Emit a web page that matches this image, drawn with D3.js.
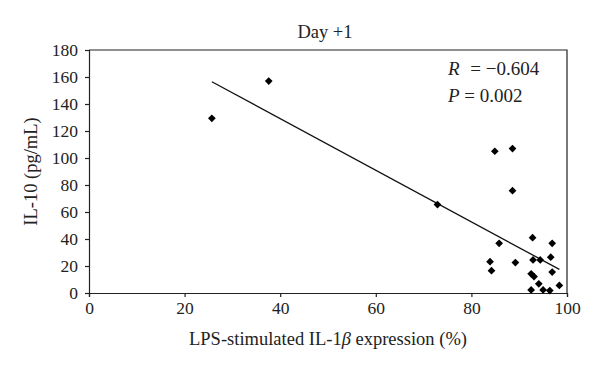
<!DOCTYPE html>
<html>
<head>
<meta charset="utf-8">
<script src="https://cdn.jsdelivr.net/npm/d3@7"></script>
<style>
  body { margin: 0; background: #fff; }
  svg { display: block; }
</style>
</head>
<body>
<div id="chart"></div>
<script>
// Data
const xValues = [25.7, 37.6, 72.9, 84.9, 88.6, 88.6, 85.8, 92.8, 96.9, 83.9, 89.2, 92.9, 94.4, 96.6,
  84.2, 96.9, 92.5, 93.1, 94.1, 98.4, 92.5, 95.0, 96.4];
const yValues = [129.4, 157, 65.5, 105, 107, 75.8, 36.8, 41, 36.8, 23.2, 22.5, 24.5, 24.5, 26.5,
  16.5, 15.5, 14.2, 12.2, 6.8, 5.6, 2.3, 2.3, 1.8];
const trendX = [25.7, 98.4];
const trendY = [156.5, 17.5];
const xTicks = [0, 20, 40, 60, 80, 100];
const yTicks = [0, 20, 40, 60, 80, 100, 120, 140, 160, 180];

const width = 600;
const height = 372;
const margin = { top: 50, right: 33, bottom: 79, left: 89 };
const serif = "'Liberation Serif', 'DejaVu Serif', serif";

const svg = d3.select("#chart")
  .append("svg")
  .attr("width", width)
  .attr("height", height)
  .style("font-family", serif);

const x = d3.scaleLinear()
  .domain([0, 100])
  .range([margin.left, width - margin.right]);

const y = d3.scaleLinear()
  .domain([0, 180])
  .range([height - margin.bottom, margin.top]);

// frame (top and right)
svg.append("path")
  .attr("d", `M${x(0)},${y(180)}H${x(100)}V${y(0)}`)
  .attr("fill", "none")
  .attr("stroke", "#222")
  .attr("stroke-width", 1.2);

const xAxis = g => g
  .attr("transform", `translate(0,${y(0)})`)
  .call(d3.axisBottom(x).tickValues(xTicks).tickSize(4).tickPadding(5))
  .call(g => g.select(".domain").attr("stroke", "#222").attr("stroke-width", 1.2))
  .call(g => g.selectAll(".tick line").attr("stroke", "#222").attr("stroke-width", 1.2))
  .call(g => g.selectAll("text").attr("font-size", "17.5px").attr("fill", "#222")
    .style("font-family", serif));

const yAxis = g => g
  .attr("transform", `translate(${x(0)},0)`)
  .call(d3.axisLeft(y).tickValues(yTicks).tickSize(4).tickPadding(7))
  .call(g => g.select(".domain").attr("stroke", "#222").attr("stroke-width", 1.2))
  .call(g => g.selectAll(".tick line").attr("stroke", "#222").attr("stroke-width", 1.2))
  .call(g => g.selectAll("text").attr("font-size", "17.5px").attr("fill", "#222")
    .style("font-family", serif));

svg.append("g").call(xAxis);
svg.append("g").call(yAxis);

// trend line
svg.append("line")
  .attr("x1", x(trendX[0]))
  .attr("y1", y(trendY[0]))
  .attr("x2", x(trendX[1]))
  .attr("y2", y(trendY[1]))
  .attr("stroke", "#111")
  .attr("stroke-width", 1.3);

// points
const diamond = d3.symbol().type(d3.symbolSquare).size(30);
svg.append("g")
  .selectAll("path")
  .data(xValues.map((v, i) => [v, yValues[i]]))
  .join("path")
  .attr("d", diamond)
  .attr("transform", d => `translate(${x(d[0])},${y(d[1])}) rotate(45)`)
  .attr("fill", "#000");

// title
svg.append("text")
  .attr("x", 325)
  .attr("y", 38)
  .attr("text-anchor", "middle")
  .attr("font-size", "18.5px")
  .attr("fill", "#222")
  .text("Day +1");

// stats
const rText = svg.append("text").attr("x", 448).attr("y", 75).attr("font-size", "19px").attr("fill", "#222");
rText.append("tspan").attr("font-style", "italic").text("R");
rText.append("tspan").attr("dx", 6).text(" = \u22120.604");
const pText = svg.append("text").attr("x", 448).attr("y", 102).attr("font-size", "19px").attr("fill", "#222");
pText.append("tspan").attr("font-style", "italic").text("P");
pText.append("tspan").text(" = 0.002");

// axis titles
const xTitle = svg.append("text")
  .attr("x", (x(0) + x(100)) / 2)
  .attr("y", 345)
  .attr("text-anchor", "middle")
  .attr("font-size", "18.5px")
  .attr("fill", "#222");
xTitle.append("tspan").text("LPS-stimulated IL-1");
xTitle.append("tspan").attr("font-style", "italic").text("\u03b2");
xTitle.append("tspan").text(" expression (%)");

svg.append("text")
  .attr("transform", `translate(37,${(y(0) + y(180)) / 2}) rotate(-90)`)
  .attr("text-anchor", "middle")
  .attr("font-size", "18.5px")
  .attr("fill", "#222")
  .text("IL-10 (pg/mL)");
</script>
</body>
</html>
